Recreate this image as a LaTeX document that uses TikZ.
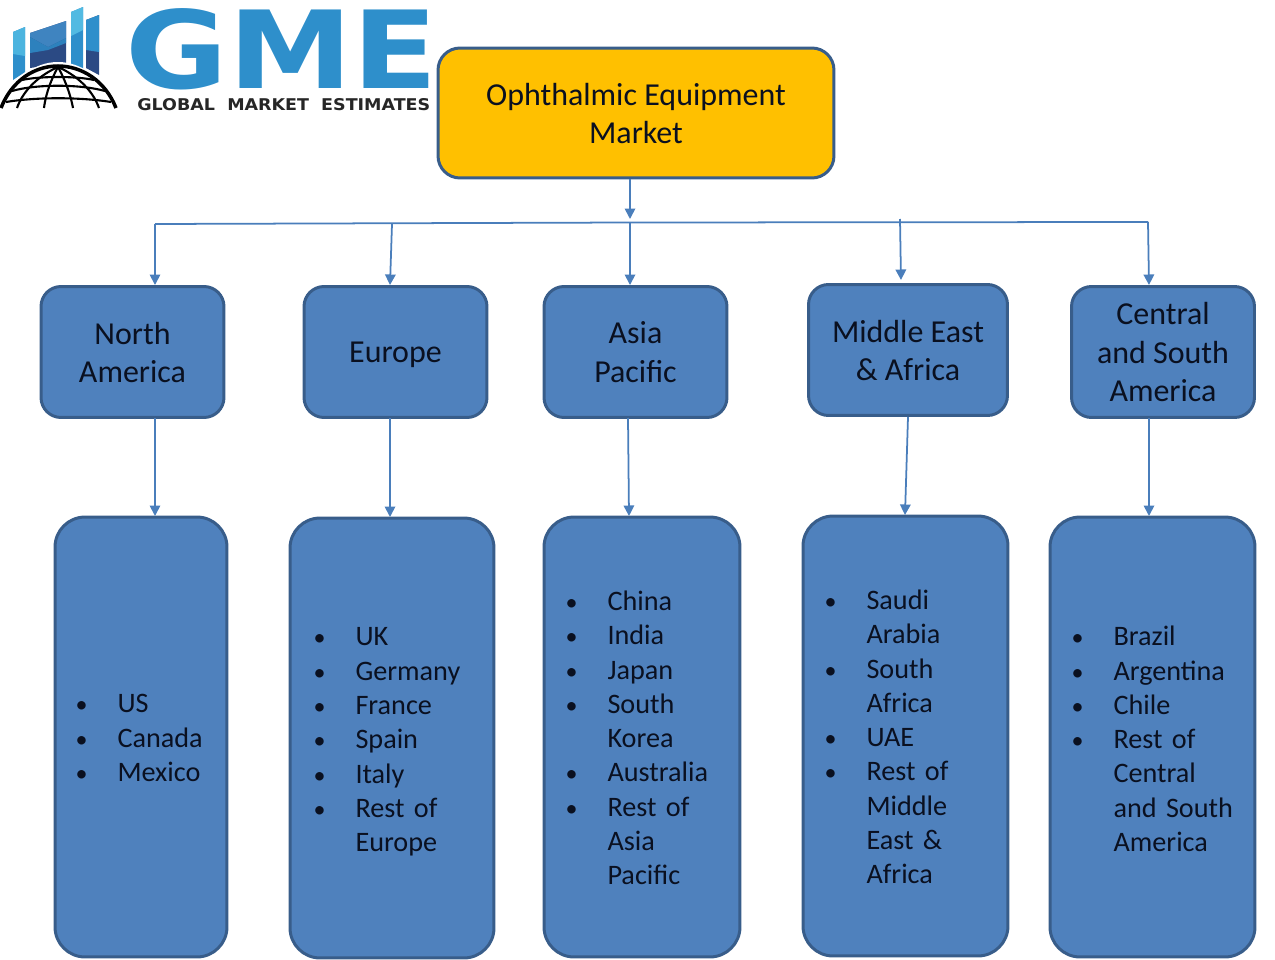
\documentclass[tikz,border=0pt]{standalone}
\usepackage{fontspec}
\setmainfont{Carlito}
\newfontfamily\logofont{DejaVu Sans}
\usepackage{graphicx}
\usetikzlibrary{arrows.meta}
\definecolor{gmeblue}{HTML}{2E8FCB}
\definecolor{gmenavy}{HTML}{2B4A84}
\definecolor{gmesky}{HTML}{52BAE2}
\definecolor{gmemid}{HTML}{3F84C0}
\definecolor{boxfill}{HTML}{4F81BD}
\definecolor{boxedge}{HTML}{385D8A}
\definecolor{linkblue}{HTML}{4A7EBB}
\definecolor{marketgold}{HTML}{FFC000}
\definecolor{inkdark}{HTML}{0A1020}
\newcommand{\blt}{\makebox[0.79cm][l]{\hspace*{-0.05cm}\scalebox{0.85}{\textbullet}}}
\newcommand{\cnt}{\hspace*{0.79cm}}
\newcommand{\nudge}[1]{\par\vspace{#1}}
\tikzset{
  rootbox/.style={rectangle, rounded corners=0.44cm, draw=boxedge, line width=1.7pt, fill=marketgold, align=center, inner sep=0pt, text=inkdark, text depth=-0.02cm, minimum width=7.92cm, minimum height=2.6cm, font=\fontsize{18.2}{21.7}\selectfont},
  regionbox/.style={rectangle, rounded corners=0.4cm, draw=boxedge, line width=1.7pt, fill=boxfill, align=center, inner sep=0pt, text=inkdark, text depth=0pt, minimum height=2.62cm, font=\fontsize{18.2}{21.7}\selectfont},
  listbox/.style={rectangle, rounded corners=0.6cm, draw=boxedge, line width=1.7pt, fill=boxfill, align=left, inner sep=0pt, text=inkdark, minimum height=8.8cm, font=\fontsize{16.05}{19.5}\selectfont},
  flow/.style={draw=linkblue, line width=1pt, -{Triangle[length=0.21cm,width=0.21cm]}},
  bus/.style={draw=linkblue, line width=1pt},
  globeline/.style={draw=black, line width=1.2pt},
}
\begin{document}
\begin{tikzpicture}[x=0.02cm,y=-0.02cm]
  \useasboundingbox (0,0) rectangle (1275,960);
  % logo
  \fill[gmeblue] (13,32) -- (25,27) -- (25,72) -- (13,80) -- cycle;
  \fill[gmesky!85!gmeblue] (13,32) -- (25,27) -- (25,56) -- (13,54) -- cycle;
  \fill[gmenavy] (30,33) -- (66,21) -- (66,63) -- (30,68) -- cycle;
  \fill[gmemid] (30,33) -- (66,21) -- (66,38) -- (48,47) -- (30,37) -- cycle;
  \fill[gmeblue!80!gmenavy] (30,37) -- (48,47) -- (66,38) -- (66,43) -- (48,50) -- (30,53) -- cycle;
  \fill[gmeblue] (71,12) -- (83,7) -- (83,70) -- (71,65) -- cycle;
  \fill[gmesky] (71,12) -- (83,7) -- (83,30) -- (71,36) -- cycle;
  \fill[gmenavy] (86,20) -- (99,15) -- (99,75) -- (86,68) -- cycle;
  \fill[gmeblue] (86,20) -- (99,15) -- (99,52) -- (86,50) -- cycle;
  \fill[white] (0,108) .. controls (12,78) and (35,62) .. (58,62) .. controls (81,62) and (105,78) .. (117,108) -- cycle;
  \draw[globeline, line width=2pt] (1,108) .. controls (12,80) and (35,66) .. (58,66) .. controls (81,66) and (105,80) .. (116,108);
  \draw[globeline] (58,67) .. controls (42,74) and (24,88) .. (17,108);
  \draw[globeline] (58,67) .. controls (52,78) and (46,92) .. (44,108);
  \draw[globeline] (58,67) .. controls (64,78) and (70,92) .. (73,108);
  \draw[globeline] (58,67) .. controls (74,74) and (92,88) .. (99,108);
  \draw[globeline] (22,80) .. controls (40,76) and (76,76) .. (94,80);
  \draw[globeline] (12,91) .. controls (36,84) and (80,84) .. (105,91);
  \draw[globeline] (6,102) .. controls (36,97) and (80,97) .. (111,102);
  \node[inner sep=0pt, anchor=north west, text=gmeblue] (logoname) at (125,8) {\logofont\bfseries\resizebox{6.25cm}{1.6cm}{GME}};
  \node[inner sep=0pt, anchor=north west, text=black!85] (logotag) at (137,98) {\logofont\bfseries\resizebox{5.86cm}{0.24cm}{GLOBAL\ \ MARKET\ \ ESTIMATES}};
  % market and regions
  \node[rootbox] (market) at (636,113) {Ophthalmic Equipment\\Market};
  \node[regionbox, minimum width=3.66cm] (northam) at (132.5,352) {North\\America};
  \node[regionbox, minimum width=3.66cm] (europe) at (395.5,352) {Europe};
  \node[regionbox, minimum width=3.66cm] (asia) at (635.5,352) {Asia\\Pacific};
  \node[regionbox, minimum width=3.98cm] (mideast) at (908,350) {Middle East\\\& Africa};
  \node[regionbox, minimum width=3.66cm] (centralam) at (1163,352) {Central\\and South\\America};
  % country lists
  \node[listbox, minimum width=3.44cm, text width=2.52cm] (naList) at (141,737) {\blt US\\\blt Canada\\\blt Mexico\nudge{-0.04cm}};
  \node[listbox, minimum width=4.08cm, text width=3.04cm] (euList) at (392,738) {\blt UK\\\blt Germany\\\blt France\\\blt Spain\\\blt Italy\\\blt Rest of\\\cnt Europe\nudge{-0.16cm}};
  \node[listbox, minimum width=3.92cm, text width=2.96cm] (apList) at (642,737) {\blt China\\\blt India\\\blt Japan\\\blt South\\\cnt Korea\\\blt Australia\\\blt Rest of\\\cnt Asia\\\cnt Pacific\nudge{-0.04cm}};
  \node[listbox, minimum width=4.1cm, text width=3.14cm] (meList) at (905.5,736) {\blt Saudi\\\cnt Arabia\\\blt South\\\cnt Africa\\\blt UAE\\\blt Rest of\\\cnt Middle\\\cnt East \&\\\cnt Africa\nudge{-0.04cm}};
  \node[listbox, minimum width=4.1cm, text width=3.14cm] (caList) at (1152.5,737) {\blt Brazil\\\blt Argentina\\\blt Chile\\\blt Rest of\\\cnt Central\\\cnt and~South\\\cnt America\nudge{-0.08cm}};
  % bus
  \coordinate (busNA) at (155,224);
  \coordinate (busEU) at (392,224);
  \coordinate (busAP) at (630,222.5);
  \coordinate (busME) at (900,219);
  \coordinate (busCA) at (1148,222);
  \draw[flow] (busAP |- market.south) -- (630,219);
  \draw[bus] (busNA) -- (busAP) -- (busCA);
  % region arrows
  \draw[flow] (busNA) -- (busNA |- northam.north);
  \draw[flow] (busEU) -- (390,285);
  \draw[flow] (busAP) -- (busAP |- asia.north);
  \draw[flow] (busME) -- (901,280);
  \draw[flow] (busCA) -- (1149,285);
  % list arrows
  \draw[flow] (155,418) -- (155,516);
  \draw[flow] (390,418) -- (390,517);
  \draw[flow] (628,418) -- (629,516);
  \draw[flow] (908,417) -- (905,515);
  \draw[flow] (1149,418) -- (1149,516);
\end{tikzpicture}
\end{document}
